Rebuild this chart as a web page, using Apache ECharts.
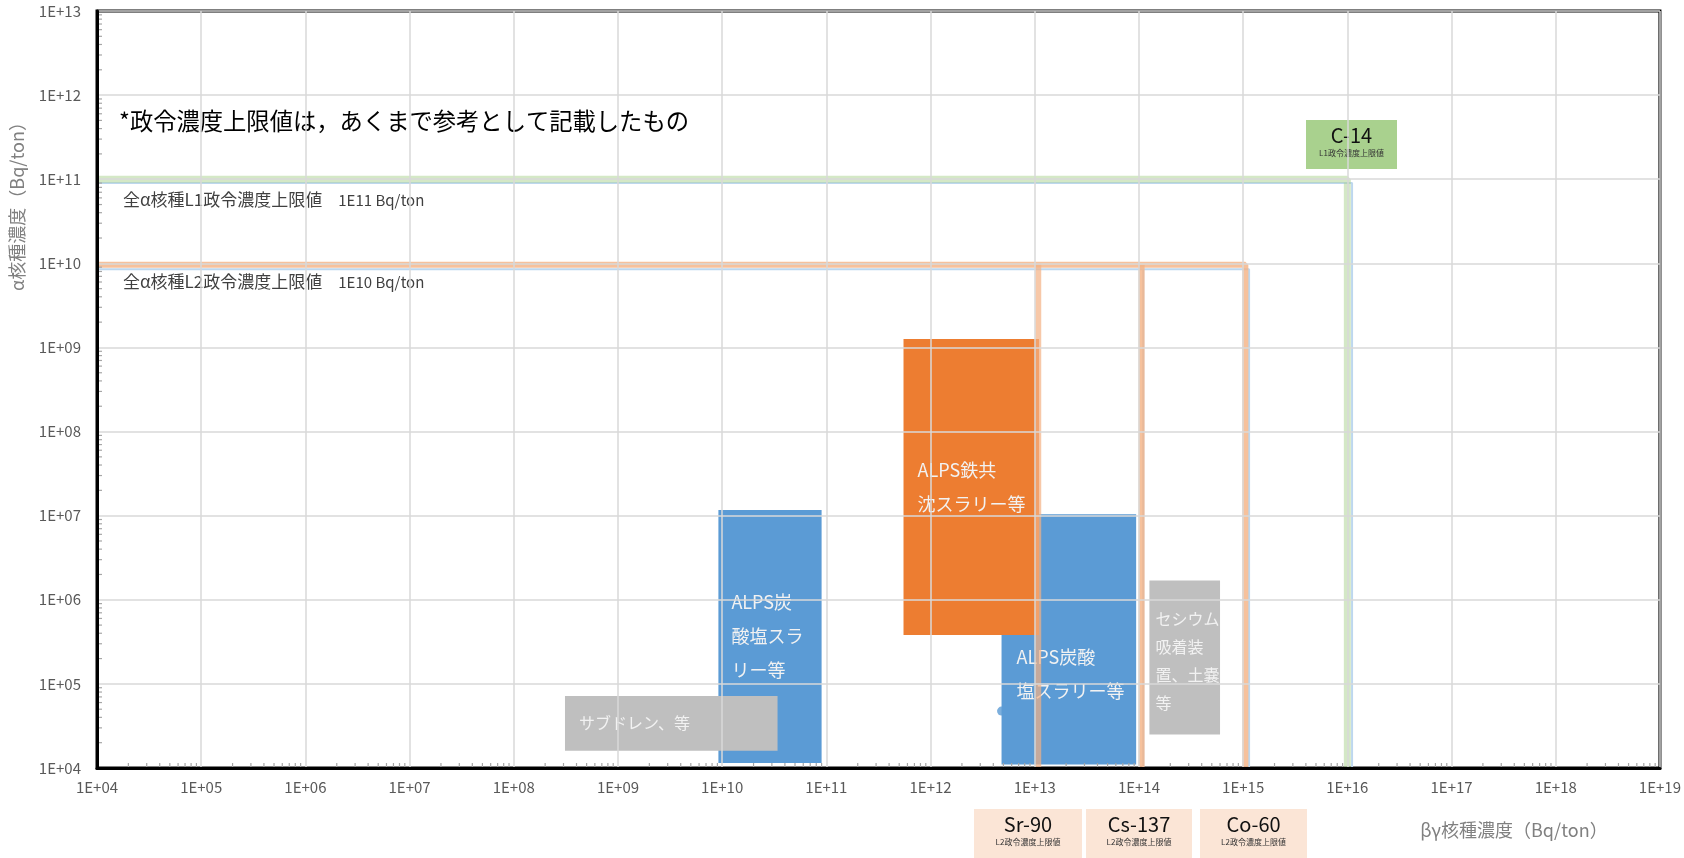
<!DOCTYPE html>
<html>
<head>
<meta charset="utf-8">
<script src="https://cdn.jsdelivr.net/npm/echarts@6.0.0/dist/echarts.min.js"></script>
<style>
  html, body { margin: 0; padding: 0; background: #fff; }
  #chart { width: 1684px; height: 858px; }
</style>
</head>
<body>
<div id="chart"></div>
<script>
// ---------------- DATA (Bq/ton) ----------------
// Axis ranges (decades)
const xDecades = [4, 19];   // βγ: 1E+04 .. 1E+19
const yDecades = [4, 13];   // α : 1E+04 .. 1E+13

// Waste-stream boxes: β-γ range (x) and α range (y)
const boxLabels = ['ALPS炭\n酸塩スラ\nリー等', 'ALPS炭酸\n塩スラリー等', 'サブドレン、等', 'ALPS鉄共\n沈スラリー等', 'セシウム\n吸着装\n置、土嚢\n等'];
const boxKinds  = ['blue', 'blue', 'gray', 'orange', 'gray'];
const boxXMin   = [9.2e9, 4.8e12, 3.1e8, 5.5e11, 1.26e14];
const boxXMax   = [9.0e10, 9.4e13, 3.4e10, 1.1e13, 6.0e14];
const boxYMin   = [1.15e4, 1.1e4, 1.6e4, 3.8e5, 2.5e4];
const boxYMax   = [1.17e7, 1.04e7, 7.2e4, 1.26e9, 1.7e6];

// Single point at the left edge of the second ALPS box
const pointX = [4.8e12];
const pointY = [4.75e4];

// Regulatory upper limits
const limitNames = ['Sr-90', 'Cs-137', 'Co-60', 'C-14'];
const limitClass = ['L2政令濃度上限値', 'L2政令濃度上限値', 'L2政令濃度上限値', 'L1政令濃度上限値'];
const limitBetaX = [1.08e13, 1.06e14, 1.05e15, 1.0e16];
const alphaL1Y = 1.0e11;
const alphaL2Y = 9.6e9;
// pale blue companion traces
const paleX   = [1.1e14, 1.14e15, 1.11e16];
const paleL1Y = 9.0e10;
const paleL2Y = 8.5e9;

const alphaNames  = ['全α核種L1政令濃度上限値', '全α核種L2政令濃度上限値'];
const alphaValues = ['1E11 Bq/ton', '1E10 Bq/ton'];
const noteText = '*政令濃度上限値は，あくまで参考として記載したもの';
const xTitle = 'βγ核種濃度（Bq/ton）';
const yTitle = 'α核種濃度（Bq/ton）';

// ---------------- BUILD ----------------
const lg = Math.log10;
const FONT = '"Noto Sans CJK JP", "Noto Sans", sans-serif';
const xMin = xDecades[0], xMax = xDecades[1], yMin = yDecades[0], yMax = yDecades[1];
const floorX = Math.pow(10, xMin), floorY = Math.pow(10, yMin);

const boxData = boxLabels.map((_, i) => [lg(boxXMin[i]), lg(boxXMax[i]), lg(boxYMin[i]), lg(boxYMax[i])]);

const boxStyle = {
  blue:   { fill: '#5B9BD5', text: '#F2F2F2', lh: 34 },
  orange: { fill: '#ED7D31', text: '#F2F2F2', lh: 34 },
  gray:   { fill: '#BFBFBF', text: '#F2F2F2', lh: 28 }
};
// per-box text tweaks (style only)
const boxTextDy  = [0, 35, 0, 0, 3];
const boxTextPad = [13, 15, 14, 14, 6];
const boxTextSize = [18, 18, 16, 18, 16];

function renderBox(params, api) {
  const i = params.dataIndex;
  const p0 = api.coord([api.value(0), api.value(3)]);
  const p1 = api.coord([api.value(1), api.value(2)]);
  const x = p0[0], y = p0[1], w = p1[0] - p0[0], h = p1[1] - p0[1];
  const st = boxStyle[boxKinds[i]];
  return {
    type: 'group',
    children: [
      { type: 'rect', shape: { x: x, y: y, width: w, height: h }, style: { fill: st.fill } },
      {
        type: 'text', x: x + boxTextPad[i], y: y + h / 2 + boxTextDy[i],
        clipPath: { type: 'rect', shape: { x: -boxTextPad[i], y: -h, width: w, height: 2 * h } },
        style: {
          text: boxLabels[i], fill: st.text, fontSize: boxTextSize[i], fontFamily: FONT,
          lineHeight: st.lh, align: 'left', verticalAlign: 'middle'
        }
      }
    ]
  };
}

// minor log ticks (axis decoration)
const minorX = [], minorY = [];
for (let d = xMin; d < xMax; d++) for (let k = 2; k <= 9; k++) minorX.push([d + lg(k)]);
for (let d = yMin; d < yMax; d++) for (let k = 2; k <= 9; k++) minorY.push([d + lg(k)]);

function renderMinorX(params, api) {
  const p = api.coord([api.value(0), yMin]);
  return { type: 'line', shape: { x1: p[0], y1: p[1], x2: p[0], y2: p[1] - 5 }, style: { stroke: '#A6A6A6', lineWidth: 1.2 } };
}
function renderMinorY(params, api) {
  const p = api.coord([xMin, api.value(0)]);
  return { type: 'line', shape: { x1: p[0], y1: p[1], x2: p[0] + 5, y2: p[1] }, style: { stroke: '#A6A6A6', lineWidth: 1.2 } };
}

function path(pts) { return pts.map(p => [lg(p[0]), lg(p[1])]); }
function lineSeries(pts, color, width, opacity) {
  return {
    type: 'line', data: path(pts), symbol: 'none', z: 3, silent: true,
    lineStyle: { color: color, width: width, opacity: opacity }, animation: false
  };
}

const ORANGE = '#F4B183', GREEN = '#A9D18E', PALE = '#BDD7EE';
const lines = [
  lineSeries([[floorX, paleL1Y], [paleX[2], paleL1Y], [paleX[2], floorY]], PALE, 2, 1),
  lineSeries([[floorX, paleL2Y], [paleX[1], paleL2Y], [paleX[1], floorY]], PALE, 2, 1),
  lineSeries([[paleX[0], paleL2Y], [paleX[0], floorY]], PALE, 2, 1),
  lineSeries([[floorX, alphaL1Y], [limitBetaX[3], alphaL1Y], [limitBetaX[3], floorY]], GREEN, 7, 0.5),
  lineSeries([[floorX, alphaL2Y], [limitBetaX[2], alphaL2Y], [limitBetaX[2], floorY]], ORANGE, 6, 0.8),
  lineSeries([[limitBetaX[0], 1.0e10], [limitBetaX[0], floorY]], ORANGE, 6, 0.7),
  lineSeries([[limitBetaX[1], alphaL2Y], [limitBetaX[1], floorY]], ORANGE, 6, 0.8)
];

function annot(x, y, w, h, fill, big, small) {
  return {
    type: 'group', x: x, y: y, silent: true,
    children: [
      { type: 'rect', shape: { x: 0, y: 0, width: w, height: h }, style: { fill: fill } },
      { type: 'text', x: w / 2, y: 15, style: { text: big, fontSize: 20, fontFamily: FONT, fill: '#111', align: 'center', verticalAlign: 'middle' } },
      { type: 'text', x: w / 2, y: 33, style: { text: small, fontSize: 8, fontFamily: FONT, fill: '#333', align: 'center', verticalAlign: 'middle' } }
    ]
  };
}

function alphaLabel(i, y) {
  return {
    type: 'text', x: 123, y: y, silent: true,
    style: {
      text: '{a|' + alphaNames[i] + '}{b|' + alphaValues[i] + '}',
      align: 'left', verticalAlign: 'middle',
      rich: {
        a: { fontSize: 17, fontFamily: FONT, fill: '#404040', color: '#404040' },
        b: { fontSize: 15, fontFamily: FONT, fill: '#404040', color: '#404040', padding: [0, 0, 0, 16] }
      }
    }
  };
}

const fmt = v => '1E+' + String(Math.round(v)).padStart(2, '0');

const option = {
  backgroundColor: '#fff',
  animation: false,
  grid: { left: 97, right: 23, top: 11, bottom: 90, show: true, borderColor: '#000', borderWidth: 3, backgroundColor: 'transparent' },
  xAxis: {
    type: 'value', min: xMin, max: xMax, interval: 1, z: 5,
    axisLine: { show: true, lineStyle: { color: '#000', width: 3 } },
    axisTick: { show: false },
    axisLabel: { formatter: fmt, color: '#595959', fontSize: 15, fontFamily: FONT, margin: 12 },
    splitLine: { show: true, lineStyle: { color: '#D9D9D9', width: 1.5 } }
  },
  yAxis: {
    type: 'value', min: yMin, max: yMax, interval: 1, z: 5,
    axisLine: { show: true, onZero: false, lineStyle: { color: '#000', width: 3 } },
    axisTick: { show: false },
    axisLabel: { formatter: fmt, color: '#595959', fontSize: 15, fontFamily: FONT, margin: 16 },
    splitLine: { show: true, lineStyle: { color: '#D9D9D9', width: 1.5 } }
  },
  series: [
    {
      type: 'scatter', z: 1, data: pointX.map((v, i) => [lg(v), lg(pointY[i])]),
      symbolSize: 9, itemStyle: { color: '#5B9BD5' }, silent: true
    },
    {
      type: 'custom', z: 2, renderItem: renderBox, data: boxData,
      encode: { x: [0, 1], y: [2, 3] }, silent: true
    },
    ...lines,
    { type: 'custom', z: 4, renderItem: renderMinorX, data: minorX, encode: { x: 0 }, silent: true },
    { type: 'custom', z: 4, renderItem: renderMinorY, data: minorY, encode: { y: 0 }, silent: true }
  ],
  graphic: [
    { type: 'text', x: 119, y: 121, silent: true, style: { text: noteText, fontSize: 23.3, fontFamily: FONT, fill: '#000', align: 'left', verticalAlign: 'middle' } },
    alphaLabel(0, 200),
    alphaLabel(1, 282),
    { type: 'text', x: 17, y: 202, rotation: Math.PI / 2, silent: true, style: { text: yTitle, fontSize: 18, fontFamily: FONT, fill: '#808080', align: 'center', verticalAlign: 'middle' } },
    { type: 'text', x: 1514, y: 830, silent: true, style: { text: xTitle, fontSize: 18, fontFamily: FONT, fill: '#808080', align: 'center', verticalAlign: 'middle' } },
    annot(974, 809, 108, 49, '#FBE5D6', limitNames[0], limitClass[0]),
    annot(1086, 809, 106, 49, '#FBE5D6', limitNames[1], limitClass[1]),
    annot(1200, 809, 107, 49, '#FBE5D6', limitNames[2], limitClass[2]),
    annot(1306, 120, 91, 49, '#A9D18E', limitNames[3], limitClass[3])
  ]
};

const chart = echarts.init(document.getElementById('chart'), null, { renderer: 'canvas' });
chart.setOption(option);
</script>
</body>
</html>
